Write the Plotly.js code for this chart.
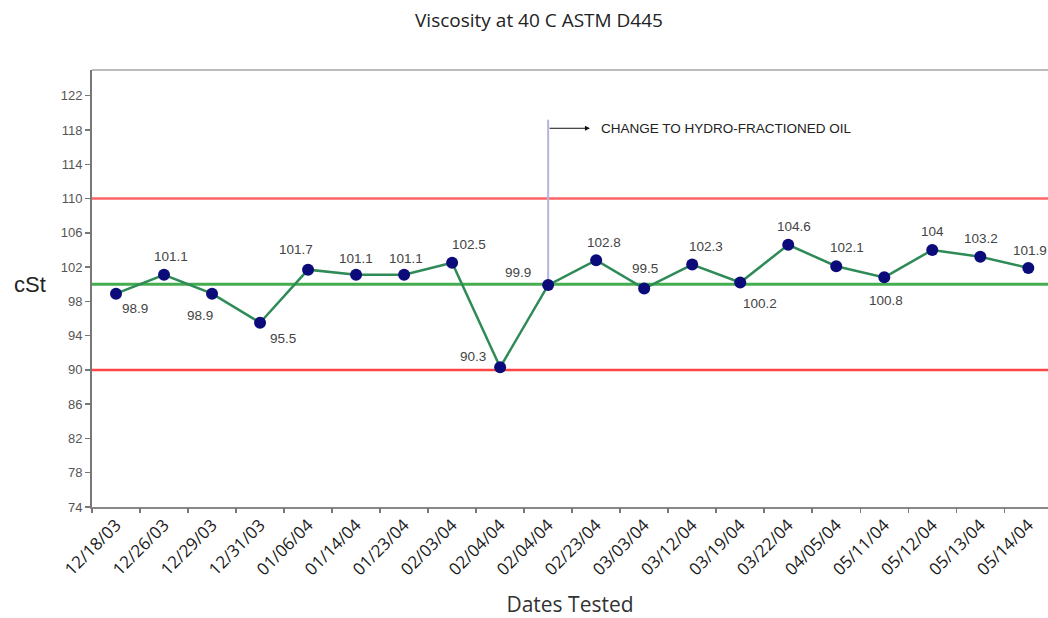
<!DOCTYPE html>
<html>
<head>
<meta charset="utf-8">
<script src="https://cdn.plot.ly/plotly-3.0.1.min.js"></script>
<style>
  html, body { margin: 0; padding: 0; background: #ffffff; }
  #chart { width: 1048px; height: 618px; }
</style>
</head>
<body>
<div id="chart"></div>
<script>
// ---- data ----
const dates = ["12/18/03","12/26/03","12/29/03","12/31/03","01/06/04","01/14/04","01/23/04","02/03/04","02/04/04","02/04/04",
               "02/23/04","03/03/04","03/12/04","03/19/04","03/22/04","04/05/04","05/11/04","05/12/04","05/13/04","05/14/04"];
const viscosity = [98.9, 101.1, 98.9, 95.5, 101.7, 101.1, 101.1, 102.5, 90.3, 99.9,
                   102.8, 99.5, 102.3, 100.2, 104.6, 102.1, 100.8, 104, 103.2, 101.9];
const upperLimit = 110;
const centerLine = 100;
const lowerLimit = 90;
const changeIndex = 9;
const changeText = "CHANGE TO HYDRO-FRACTIONED OIL";
const yTickStart = 74, yTickEnd = 122, yTickStep = 4;

// ---- label placement (pixel offsets, styling only) ----
const labelDX = [19, 7, -12, 23, -12, 0, 2, 17, -27, -30, 8, 1, 14, 20, 6, 11, 2, 0, 1, 2];
const labelDY = [-15, 18, -22, -16, 20, 16, 16, 18, 11, 13, 18, 20, 18, -21, 18, 19, -23, 18, 18, 17];

const idx = dates.map((d, i) => i);
const boundaries = dates.map((d, i) => i - 0.5);
const yTicks = [];
for (let v = yTickStart; v <= yTickEnd; v += yTickStep) yTicks.push(v);

const traces = [
  {
    x: idx, y: viscosity, type: "scatter", mode: "lines+markers",
    line: { color: "#2e8b57", width: 2.5 },
    marker: { color: "#0b0b7a", size: 12 },
    hoverinfo: "skip", showlegend: false
  },
  { x: [], y: [], type: "scatter", xaxis: "x2", yaxis: "y", showlegend: false, hoverinfo: "skip" }
];

const annotations = viscosity.map((v, i) => ({
  x: i, y: v, xref: "x", yref: "y", text: String(v), showarrow: false,
  xshift: labelDX[i], yshift: labelDY[i],
  font: { family: "Arial, Liberation Sans, sans-serif", size: 13.5, color: "#444" }
}));

annotations.push({
  x: changeIndex + 0.87, y: 118.2, ax: changeIndex, ay: 118.2,
  xref: "x", yref: "y", axref: "x", ayref: "y",
  text: "", showarrow: true, arrowhead: 2, arrowsize: 1, arrowwidth: 1, arrowcolor: "#111"
});
annotations.push({
  x: changeIndex + 1.06, y: 118.2, xref: "x", yref: "y", xanchor: "left", yanchor: "middle",
  text: changeText, showarrow: false,
  font: { family: "Arial, Liberation Sans, sans-serif", size: 13.5, color: "#222" }
});
annotations.push({
  x: (29.7 - 92) / 956, y: (507 - 284) / 437, xref: "paper", yref: "paper",
  xanchor: "center", yanchor: "middle", text: "cSt", showarrow: false,
  font: { family: "Arial, Liberation Sans, sans-serif", size: 22, color: "#222" }
});

const shapes = [
  { type: "line", xref: "paper", x0: 0, x1: 1, yref: "y", y0: upperLimit, y1: upperLimit,
    line: { color: "#ff6464", width: 2.5 }, layer: "below" },
  { type: "line", xref: "paper", x0: 0, x1: 1, yref: "y", y0: lowerLimit, y1: lowerLimit,
    line: { color: "#ff4444", width: 2.5 }, layer: "below" },
  { type: "line", xref: "paper", x0: 0, x1: 1, yref: "y", y0: centerLine, y1: centerLine,
    line: { color: "#45ad4f", width: 3 }, layer: "below" },
  { type: "line", xref: "x", x0: changeIndex, x1: changeIndex, yref: "y", y0: viscosity[changeIndex], y1: 119.2,
    line: { color: "#b4b4e2", width: 2 }, layer: "below" },
  { type: "line", xref: "paper", x0: 0, x1: 1, yref: "paper", y0: 1, y1: 1,
    line: { color: "#bbbbbb", width: 2 } }
];

const xRange = [-0.5, 19.41];

const layout = {
  width: 1048, height: 618,
  paper_bgcolor: "#ffffff", plot_bgcolor: "#ffffff",
  margin: { l: 92, r: 0, t: 70, b: 111 },
  title: {
    text: "Viscosity at 40 C ASTM D445",
    x: 539 / 1048, xref: "container", xanchor: "center",
    y: 1 - 20 / 618, yref: "container", yanchor: "middle",
    font: { family: "Open Sans, sans-serif", size: 19, color: "#222" }
  },
  xaxis: {
    range: xRange, tickmode: "array", tickvals: idx, ticktext: dates,
    tickangle: -45, ticks: "", showgrid: false, zeroline: false,
    showline: true, linecolor: "#888", linewidth: 1.5,
    tickfont: { family: "Open Sans, sans-serif", size: 17, color: "#1a1a1a" },
    title: { text: "Dates Tested", font: { family: "Open Sans, sans-serif", size: 21, color: "#333" }, standoff: 22 }
  },
  xaxis2: {
    range: xRange, overlaying: "x", anchor: "y", side: "bottom",
    tickmode: "array", tickvals: boundaries, ticks: "outside", ticklen: 5, tickwidth: 1.5, tickcolor: "#777",
    showticklabels: false, showgrid: false, zeroline: false, showline: false
  },
  yaxis: {
    range: [74, 125], tickmode: "array", tickvals: yTicks,
    ticks: "outside", ticklen: 5, tickwidth: 1.5, tickcolor: "#777",
    showgrid: false, zeroline: false, showline: true, linecolor: "#777", linewidth: 2,
    tickfont: { family: "Arial, Liberation Sans, sans-serif", size: 13, color: "#555" }
  },
  shapes: shapes,
  annotations: annotations,
  showlegend: false
};

Plotly.newPlot("chart", traces, layout, { staticPlot: true, displayModeBar: false });
</script>
</body>
</html>
